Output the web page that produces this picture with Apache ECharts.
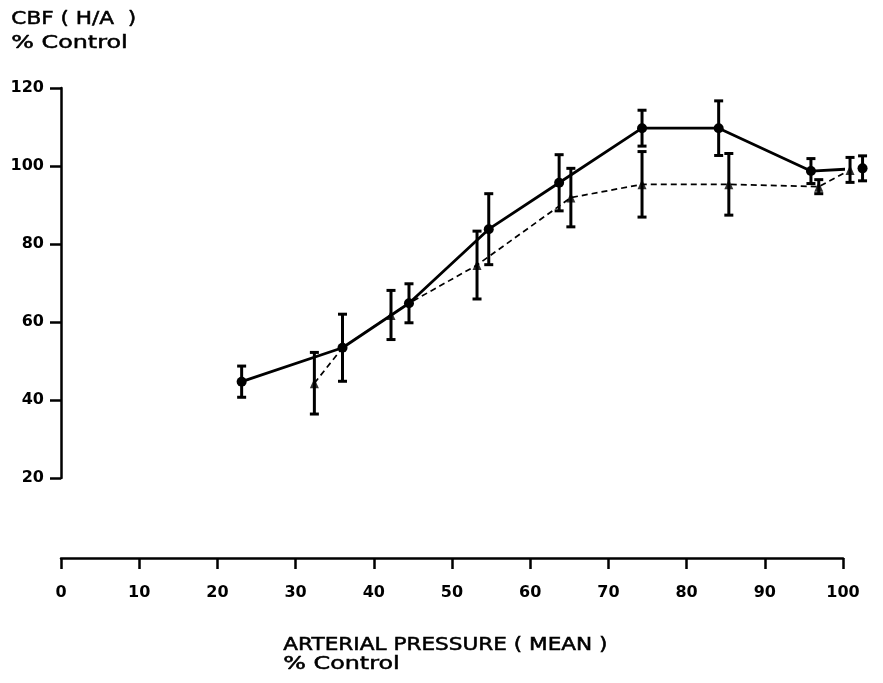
<!DOCTYPE html>
<html>
<head>
<meta charset="utf-8">
<style>
  html, body { margin: 0; padding: 0; background: #fff; }
  #chart { width: 883px; height: 683px; }
</style>
<script src="https://cdn.jsdelivr.net/npm/echarts@6/dist/echarts.min.js"></script>
</head>
<body>
<div id="chart"></div>
<script>
// ---- Data ----
// Solid line (circles): arterial pressure % control, CBF % control, +/- error
var circleX   = [23.1, 36.0, 44.5, 54.7, 63.7, 74.3, 84.1, 95.9, 102.5];
var circleY   = [44.7, 53.4, 64.8, 83.8, 95.7, 109.7, 109.7, 98.7, 99.4];
var circleErr = [4.0, 8.6, 5.0, 9.1, 7.2, 4.6, 7.0, 3.2, 3.2];

// Dashed line (triangles)
var triX   = [32.4, 42.2, 53.2, 65.2, 74.3, 85.4, 96.9, 100.9];
var triY   = [44.3, 61.8, 74.6, 91.9, 95.3, 95.3, 94.7, 99.0];
var triErr = [7.9, 6.3, 8.7, 7.5, 8.4, 7.9, 1.8, 3.2];

// Dashed path also passes through two of the circles
var dashX = [32.4, 36.0, 42.2, 44.5, 53.2, 65.2, 74.3, 85.4, 96.9, 100.9];
var dashY = [44.3, 53.4, 61.8, 64.8, 74.6, 91.9, 95.3, 95.3, 94.7, 99.0];

var xTicks = [0, 10, 20, 30, 40, 50, 60, 70, 80, 90, 100];
var yTicks = [20, 40, 60, 80, 100, 120];

var yTitle = ['CBF ( H/A  )', '% Control'];
var xTitle = ['ARTERIAL PRESSURE ( MEAN )', '% Control'];

function zip(a, b) { return a.map(function (v, i) { return [v, b[i]]; }); }
function errData(x, y, e) { return x.map(function (v, i) { return [v, y[i] - e[i], y[i] + e[i]]; }); }

var INK = '#000';
var FONT = 'DejaVu Sans';

function renderErr(params, api) {
  var x = api.value(0);
  var lo = api.coord([x, api.value(1)]);
  var hi = api.coord([x, api.value(2)]);
  var hw = 4.5;
  var st = { stroke: INK, lineWidth: 3 };
  return {
    type: 'group',
    children: [
      { type: 'line', shape: { x1: lo[0], y1: lo[1], x2: hi[0], y2: hi[1] }, style: st },
      { type: 'line', shape: { x1: lo[0] - hw, y1: lo[1], x2: lo[0] + hw, y2: lo[1] }, style: st },
      { type: 'line', shape: { x1: hi[0] - hw, y1: hi[1], x2: hi[0] + hw, y2: hi[1] }, style: st }
    ]
  };
}

function titleText(text, left, top, size, sx) {
  return { type: 'text', left: left, top: top, scaleX: sx,
    style: { text: text, fill: INK, stroke: INK, lineWidth: 0.5,
             fontFamily: FONT, fontSize: size } };
}

var chart = echarts.init(document.getElementById('chart'), null, { renderer: 'canvas' });

var option = {
  backgroundColor: '#fff',
  animation: false,
  grid: { left: 61, right: 40, top: 88, bottom: 205, containLabel: false },
  xAxis: {
    type: 'value',
    min: xTicks[0], max: xTicks[xTicks.length - 1], interval: 10,
    offset: 80,
    axisLine: { show: true, onZero: false, lineStyle: { color: INK, width: 2.5 } },
    axisTick: { show: true, length: 11, lineStyle: { color: INK, width: 2.5 } },
    axisLabel: { color: INK, fontFamily: FONT, fontWeight: 'bold', fontSize: 16, margin: 27 },
    splitLine: { show: false }
  },
  yAxis: {
    type: 'value',
    min: yTicks[0], max: yTicks[yTicks.length - 1], interval: 20,
    axisLine: { show: true, lineStyle: { color: INK, width: 2.5 } },
    axisTick: { show: true, length: 11, lineStyle: { color: INK, width: 2.5 } },
    axisLabel: { color: INK, fontFamily: FONT, fontWeight: 'bold', fontSize: 16, margin: 17 },
    splitLine: { show: false }
  },
  graphic: [
    titleText(yTitle[0], 11, 10, 18, 1.2),
    titleText(yTitle[1], 11, 35, 17, 1.4),
    titleText(xTitle[0], 283, 637, 17, 1.27),
    titleText(xTitle[1], 283, 656, 17, 1.4)
  ],
  series: [
    {
      type: 'custom', name: 'errCircle', clip: false, z: 2,
      renderItem: renderErr, data: errData(circleX, circleY, circleErr),
      encode: { x: 0, y: [1, 2] }
    },
    {
      type: 'custom', name: 'errTri', clip: false, z: 2,
      renderItem: renderErr, data: errData(triX, triY, triErr),
      encode: { x: 0, y: [1, 2] }
    },
    {
      type: 'line', name: 'dashed', clip: false, z: 3,
      data: zip(dashX, dashY), symbol: 'none',
      lineStyle: { color: INK, width: 1.7, type: [6, 4] }
    },
    {
      type: 'line', name: 'solid', clip: false, z: 4,
      data: zip(circleX, circleY), symbol: 'circle', symbolSize: 10,
      itemStyle: { color: INK }, lineStyle: { color: INK, width: 2.8 }
    },
    {
      type: 'scatter', name: 'triangles', clip: false, z: 5,
      data: zip(triX, triY), symbol: 'triangle', symbolSize: [9, 10],
      itemStyle: { color: INK }
    }
  ]
};

chart.setOption(option);
</script>
</body>
</html>
